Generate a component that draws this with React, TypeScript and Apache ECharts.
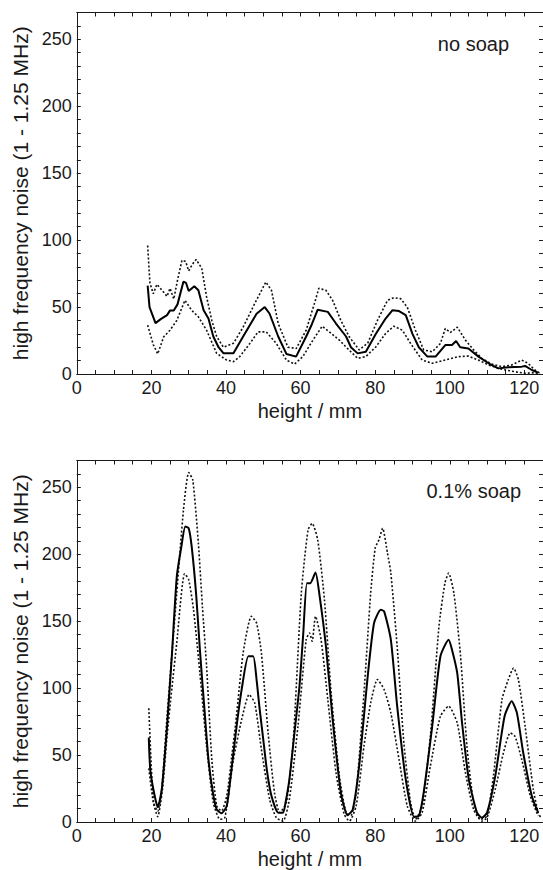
import React, { useEffect, useRef } from "react";
import * as echarts from "echarts";

// ---- data (x = height / mm, y = high frequency noise) ----
const noSoapMean: number[][] = [
  [19.0, 66], [19.5, 50], [21.1, 38], [22.5, 41], [24.2, 44], [25, 47.5], [26, 47.5], [27, 52],
  [28.6, 69], [29.3, 68], [30, 62], [31.5, 65.5], [32.6, 62.5], [34, 47.6], [35.3, 41.4],
  [36.6, 28], [38, 20], [39.3, 15.5], [42, 15.5], [44.6, 28], [46.5, 37], [48.2, 45], [50.4, 50],
  [51.7, 45], [54, 28], [56.2, 15], [58.8, 13], [61.5, 28], [63, 37], [64.6, 48], [67.3, 46.4],
  [69.5, 37.7], [72.2, 28], [73.5, 20], [75.3, 15.4], [77.5, 16.6], [80.2, 30], [82.8, 41.4],
  [84.6, 47.6], [86.4, 47], [88.2, 44], [90, 30], [91.7, 20], [94, 13], [96.2, 13], [98.8, 21.6],
  [100.6, 21.6], [101.7, 24.6], [102.8, 20], [105, 19], [107.7, 13], [110.4, 8], [113, 4.2],
  [115.7, 5], [119.3, 5.5], [120.2, 6], [122, 3], [123.7, 1],
];
const noSoapUpper: number[][] = [
  [19, 96], [19.6, 68], [20.5, 60], [21.5, 67], [23, 62], [24.2, 58], [25, 64], [26, 56], [27, 70],
  [28.2, 85], [29.2, 84], [30, 77], [31, 82], [32, 85.5], [33.5, 79], [34.8, 57.6], [36.2, 40],
  [37.5, 28], [39.3, 20], [42, 23], [44.6, 35], [47.7, 52.6], [50.7, 68.7], [52.2, 62.5],
  [54, 37.7], [56.6, 20], [58.8, 19], [61.5, 32.7], [63.7, 52.6], [64.9, 64], [66.8, 62.5],
  [68.6, 55], [70.8, 40], [73, 28], [75.7, 18], [78, 23], [80.6, 40], [83.3, 55], [85, 57],
  [86.8, 56.3], [88.6, 50], [90.8, 32.7], [93, 18], [95.3, 16.6], [97.5, 22.8], [98.8, 34],
  [100.2, 31], [102, 35], [104.2, 25.3], [106.4, 18], [108.6, 11.7], [111.3, 7.4], [114, 5.5],
  [116.6, 6.7], [119.3, 10.4], [121, 8], [122.8, 3], [124.2, 0.5],
];
const noSoapLower: number[][] = [
  [19, 36.5], [20.5, 22], [21.7, 15], [23.3, 27.8], [25, 32.7], [26.8, 40], [29, 55], [30.8, 47.6],
  [32.6, 42.7], [34.8, 32.7], [37.5, 15.4], [40.2, 10.4], [42, 9.2], [43.7, 13], [46.4, 22.8],
  [48.6, 31.5], [50.8, 31.5], [53.5, 22.8], [56.2, 10.4], [58.4, 7.4], [60.6, 13], [63.3, 25.3],
  [65.8, 35.7], [67.7, 31.5], [70.4, 25.3], [73, 17.9], [75.3, 11.7], [77.5, 13], [80.2, 20.3],
  [82.8, 30.3], [85, 35.7], [87.3, 32.7], [89.5, 22.8], [92.6, 10.4], [95.3, 8], [98.8, 10.4],
  [102.4, 13], [105, 13.4], [107.7, 10.4], [110.4, 6.7], [114, 3.5], [117.5, 1.7], [120.2, 0.5],
  [122.8, 1], [124.2, 0],
];

const soapMean: number[][] = [
  [19.3, 63], [19.7, 39], [20.7, 22], [21.7, 11], [22.8, 25], [24.2, 71.6], [25.5, 125],
  [26.8, 183], [28, 205], [29.1, 220.7], [30, 219.4], [30.8, 205.8], [32, 170], [33, 128.7],
  [34.2, 85], [35.3, 46.7], [36.5, 22], [37.5, 9.4], [38.8, 6.5], [40.2, 12], [41, 28],
  [42, 51.7], [43, 75], [44.2, 98.9], [46, 123.8], [47.3, 123.8], [48.2, 106.4], [49, 85],
  [50, 61.6], [51, 38], [52.2, 19.4], [54, 7], [55.3, 7], [56, 15], [57, 31.8], [58.3, 65],
  [59.7, 101.4], [60.7, 140], [61.7, 178.4], [62.6, 178.4], [64, 186.4], [65, 171],
  [66.8, 131.2], [68.6, 76.5], [70.8, 21.9], [72.6, 5], [74, 9.4], [75.7, 41.7], [78, 108.8],
  [79.7, 148.6], [81.5, 158.5], [82.4, 157.3], [84.2, 136.2], [85.9, 86.5], [88.2, 31.8],
  [90.4, 4], [91.7, 4.5], [93, 21.9], [95.3, 71.6], [97.5, 123.8], [99.7, 136.2],
  [100.6, 128.7], [102, 111.3], [103.3, 74], [105.1, 31.8], [107.3, 7], [108.6, 3.2], [110, 7],
  [112.2, 34.3], [114.7, 79], [116.6, 90.2], [118, 81.5], [119.7, 51.7], [122, 19.4], [123.7, 7],
];
const soapUpper: number[][] = [
  [19.3, 85], [20, 40], [20.6, 14.4], [21.7, 8], [22.8, 25], [24.2, 79], [25.5, 125], [26.8, 171],
  [28.6, 233], [30, 261], [31.1, 255.5], [32.6, 208], [33.7, 160], [34.8, 116.3], [36.2, 46.7],
  [37.5, 12], [38.8, 8.2], [40.2, 19.4], [41.5, 48], [42.8, 79], [44.6, 126.2], [46.8, 153.6],
  [48.2, 148.6], [49.5, 126.2], [51.3, 66.6], [53, 21.9], [54.4, 7], [56.2, 14.4], [58, 59],
  [60.2, 171], [62, 218.2], [63.1, 223], [64.6, 210.7], [66.4, 166], [68.2, 96.4], [70.4, 34.3],
  [72.2, 7], [73.5, 5], [74.9, 21.9], [77, 96.4], [78.8, 171], [80, 204.5], [81, 210.7],
  [82, 219.4], [83.3, 200.8], [84.2, 185.9], [85.9, 131.2], [87.7, 59], [89.5, 14.4], [90.8, 2],
  [92.6, 12], [94.8, 64], [97.1, 146], [98.7, 178.4], [99.7, 185.9], [101.1, 171],
  [102.9, 123.8], [104.6, 56.6], [106.4, 14.4], [108.2, 2], [110, 4.5], [111.7, 34.3],
  [114, 91.4], [115.7, 106.4], [117.1, 115], [118.4, 106.4], [120.2, 71.6], [122.4, 24.4],
  [123.7, 7], [124.5, 3],
];
const soapLower: number[][] = [
  [19.3, 40], [20.5, 15], [21.7, 4], [23, 25], [24.2, 64], [25.5, 100], [26.8, 133.7],
  [28.9, 185.4], [30, 181], [31.3, 158.5], [33, 111.3], [34.8, 56.6], [36.6, 14.4], [38.4, 2],
  [39.7, 3.2], [42, 46.7], [44.2, 76.5], [46.2, 95.2], [47.7, 89], [49.5, 54.2], [51.7, 16.9],
  [53.5, 3.2], [55.3, 0.7], [57, 16.9], [59.3, 71.6], [61.5, 136.2], [62.4, 141.2], [63.1, 135],
  [64, 153.6], [65.5, 136.2], [67.3, 91.4], [69.5, 36.8], [71.7, 5.7], [73.1, 0.7], [74.9, 12],
  [77, 56.6], [78.8, 89], [80.6, 106.4], [82.4, 98.9], [84.2, 81.5], [86.4, 46.7], [88.6, 12],
  [90.8, 0.7], [92.6, 7], [94.8, 41.7], [97.5, 79], [99.7, 86.5], [102, 74], [104.2, 36.8],
  [106.4, 9.4], [108.6, 0.7], [110, 3.2], [112.2, 24.4], [114.4, 51.7], [116.2, 66.6],
  [117.5, 64], [119.3, 46.7], [121.6, 19.4], [123.7, 4.5],
];

const X_MIN = 0, X_MAX = 125, X_TICK = 5, X_LABEL_STEP = 20;
const Y_MIN = 0, Y_MAX = 270, Y_TICK = 10, Y_LABEL_STEP = 50;
const X_NAME = "height / mm";
const Y_NAME = "high frequency noise (1 - 1.25 MHz)";
const PANEL_LABELS = ["no soap", "0.1% soap"];

const FONT = "Liberation Sans, Arial, Helvetica, sans-serif";
const INK = "#1a1a1a";

export default function App() {
  const ref = useRef<HTMLDivElement>(null);

  useEffect(() => {
    if (!ref.current) return;
    const chart = echarts.init(ref.current, null, { renderer: "svg" });

    const lineAxis = { lineStyle: { color: INK, width: 1 } };
    const tick = { show: true, inside: true, length: 4, lineStyle: { color: INK, width: 1 } };

    const makeX = (gridIndex: number, pos: "bottom" | "top") => ({
      type: "value",
      gridIndex,
      position: pos,
      min: X_MIN,
      max: X_MAX,
      interval: X_TICK,
      axisLine: { show: true, onZero: false, ...lineAxis },
      axisTick: tick,
      splitLine: { show: false },
      axisLabel:
        pos === "bottom"
          ? {
              show: true,
              margin: 5,
              fontSize: 18,
              fontFamily: FONT,
              color: INK,
              showMaxLabel: false,
              formatter: (v: number) => (v % X_LABEL_STEP === 0 ? String(v) : ""),
            }
          : { show: false },
      name: pos === "bottom" ? X_NAME : "",
      nameLocation: "middle",
      nameGap: 27,
      nameTextStyle: { fontSize: 20, fontFamily: FONT, color: INK },
    });

    const makeY = (gridIndex: number, pos: "left" | "right") => ({
      type: "value",
      gridIndex,
      position: pos,
      min: Y_MIN,
      max: Y_MAX,
      interval: Y_TICK,
      axisLine: { show: true, onZero: false, ...lineAxis },
      axisTick: tick,
      splitLine: { show: false },
      axisLabel:
        pos === "left"
          ? {
              show: true,
              margin: 5,
              fontSize: 18,
              fontFamily: FONT,
              color: INK,
              formatter: (v: number) => (v % Y_LABEL_STEP === 0 ? String(v) : ""),
            }
          : { show: false },
      name: pos === "left" ? Y_NAME : "",
      nameLocation: "middle",
      nameGap: 45,
      nameTextStyle: { fontSize: 21, fontFamily: FONT, color: INK },
    });

    const solid = { color: "#000", width: 2, type: "solid" };
    const dotted = { color: "#111", width: 1.6, type: [2, 2] };
    const mk = (data: number[][], idx: number, style: any, z: number, smooth: number) => ({
      type: "line",
      data,
      xAxisIndex: idx * 2,
      yAxisIndex: idx * 2,
      showSymbol: false,
      symbol: "none",
      smooth,
      lineStyle: style,
      z,
    });

    chart.setOption({
      animation: false,
      backgroundColor: "#fff",
      grid: [
        { left: 76.8, top: 12.5, width: 467, height: 361.5 },
        { left: 76.8, top: 460.5, width: 467, height: 362.5 },
      ],
      xAxis: [makeX(0, "bottom"), makeX(0, "top"), makeX(1, "bottom"), makeX(1, "top")],
      yAxis: [makeY(0, "left"), makeY(0, "right"), makeY(1, "left"), makeY(1, "right")],
      series: [
        mk(noSoapUpper, 0, dotted, 2, 0),
        mk(noSoapLower, 0, dotted, 2, 0),
        mk(noSoapMean, 0, solid, 3, 0),
        mk(soapUpper, 1, dotted, 2, 0.2),
        mk(soapLower, 1, dotted, 2, 0.2),
        mk(soapMean, 1, solid, 3, 0.2),
      ],
      graphic: [
        {
          type: "text",
          right: 34,
          top: 34,
          style: { text: PANEL_LABELS[0], fontSize: 20, fontFamily: FONT, fill: INK },
        },
        {
          type: "text",
          right: 22,
          top: 481,
          style: { text: PANEL_LABELS[1], fontSize: 20, fontFamily: FONT, fill: INK },
        },
      ],
    });

    return () => chart.dispose();
  }, []);

  return (
    <div
      ref={ref}
      style={{ position: "absolute", left: 0, top: 0, width: 543, height: 870, background: "#fff" }}
    />
  );
}
